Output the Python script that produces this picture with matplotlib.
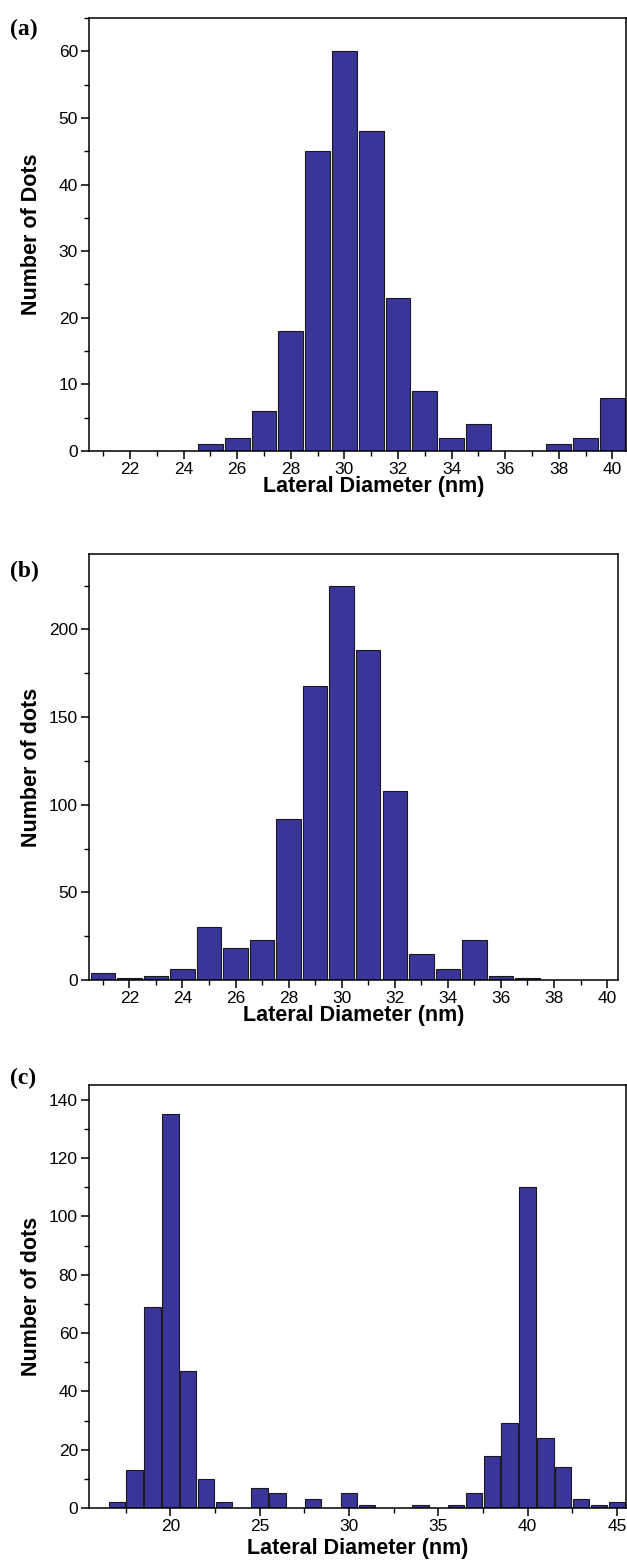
import matplotlib.pyplot as plt
from matplotlib.ticker import MultipleLocator

# Panel (a): lateral diameter histogram
diam_a = list(range(21, 41))
count_a = [0, 0, 0, 0, 1, 2, 6, 18, 45, 60, 48, 23, 9, 2, 4, 0, 0, 1, 2, 8]

# Panel (b)
diam_b = list(range(21, 41))
count_b = [4, 1, 2, 6, 30, 18, 23, 92, 168, 225, 188, 108, 15, 6, 23, 2, 1, 0, 0, 0]

# Panel (c)
diam_c = list(range(17, 46))
count_c = [2, 13, 69, 135, 47, 10, 2, 0, 7, 5, 0, 3, 0, 5, 1, 0, 0, 1, 0,
           1, 5, 18, 29, 110, 24, 14, 3, 1, 2]

BAR_COLOR = "#3a3599"
SANS = ["Liberation Sans", "DejaVu Sans"]
SERIF = ["Liberation Serif", "DejaVu Serif"]

plt.rcParams["font.family"] = SANS
plt.rcParams["axes.linewidth"] = 1.1

fig = plt.figure(figsize=(6.27, 15.66), dpi=100)

panels = [
    # (data x, data y, rect, xlim, ylim, xmajor, xminor, ymajor, yminor,
    #  ylabel, tag, tag_y, xlabel x-pos, xlabel pad)
    (diam_a, count_a, [0.142, 0.712, 0.856, 0.2765], (20.47, 40.5), (0, 65),
     2, 1, 10, 5, "Number of Dots", "(a)", 0.988, 0.53, -0.5),
    (diam_b, count_b, [0.142, 0.3742, 0.844, 0.272], (20.48, 40.42), (0, 243),
     2, 1, 50, 25, "Number of dots", "(b)", 0.642, 0.5, -0.5),
    (diam_c, count_c, [0.142, 0.037, 0.856, 0.270], (15.45, 45.5), (0, 145),
     5, 2.5, 20, 10, "Number of dots", "(c)", 0.318, 0.5, 3),
]

for (xs, ys, rect, xlim, ylim, xmaj, xmin, ymaj, ymin, ylab, tag, tag_y,
     xlab_x, xlab_pad) in panels:
    ax = fig.add_axes(rect)
    ax.bar(xs, ys, width=0.92, color=BAR_COLOR, edgecolor="#1a1a1a",
           linewidth=0.8, zorder=2)
    ax.set_xlim(*xlim)
    ax.set_ylim(*ylim)
    ax.xaxis.set_major_locator(MultipleLocator(xmaj))
    ax.xaxis.set_minor_locator(MultipleLocator(xmin))
    ax.yaxis.set_major_locator(MultipleLocator(ymaj))
    ax.yaxis.set_minor_locator(MultipleLocator(ymin))
    ax.tick_params(which="major", direction="out", length=6, width=1.1,
                   labelsize=12.5, pad=2)
    ax.tick_params(which="minor", direction="out", length=3.5, width=1.0)
    ax.set_xlabel("Lateral Diameter (nm)", fontsize=15.5, fontweight="bold",
                  labelpad=xlab_pad)
    ax.xaxis.label.set_x(xlab_x)
    ax.set_ylabel(ylab, fontsize=15.5, fontweight="bold")
    # same left offset for every panel, in pixels from the figure edge
    ax.yaxis.set_label_coords((42 - 89) / (rect[2] * 627), 0.5)
    fig.text(0.016, tag_y, tag, family=SERIF, fontsize=17, fontweight="bold",
             va="top", ha="left")

fig.savefig("out.png", dpi=100)
